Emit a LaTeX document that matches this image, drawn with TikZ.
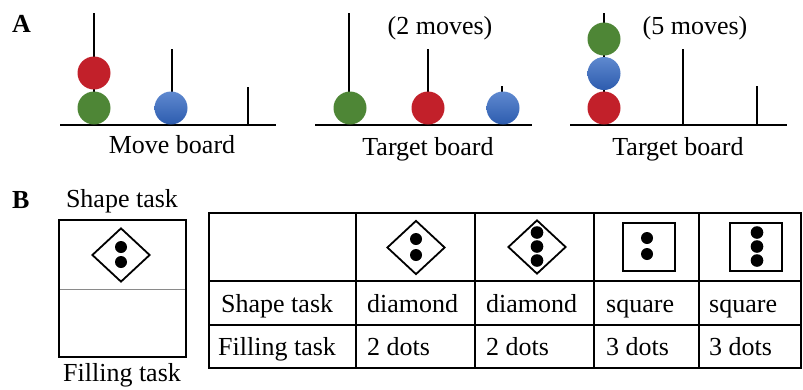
\documentclass[tikz,border=0pt]{standalone}
\usepackage{fontspec}
\setmainfont{Liberation Serif}
\usetikzlibrary{shapes.geometric}
\definecolor{ballred}{HTML}{C2202A}
\definecolor{ballgreen}{HTML}{4E8636}
\definecolor{balltop}{HTML}{5F89CF}
\definecolor{ballbot}{HTML}{2D5CAE}
\definecolor{divgray}{HTML}{8A8A8A}
\tikzset{
  peg/.style={line width=2pt},
  boardbase/.style={line width=2pt},
  redball/.style={fill=ballred},
  greenball/.style={fill=ballgreen},
  blueball/.style={top color=balltop, bottom color=ballbot, shading angle=0},
  lbl/.style={font=\fontsize{26}{30}\selectfont, anchor=base, inner sep=0pt},
  celltxt/.style={font=\fontsize{26}{30}\selectfont, anchor=base west, inner sep=0pt},
  panel/.style={font=\bfseries\fontsize{26}{30}\selectfont, anchor=base west, inner sep=0pt},
  dia/.style={draw, shape=diamond, line width=1.8pt, minimum width=58pt, minimum height=54pt, inner sep=0pt},
  sq/.style={draw, rectangle, line width=2.4pt, minimum width=52pt, minimum height=48pt, inner sep=0pt},
  grid/.style={line width=1.5pt},
}
\begin{document}
\begin{tikzpicture}[x=1pt,y=-1pt]
\useasboundingbox (0,0) rectangle (803,389);
% ---------- Panel A ----------
\node[panel] (A) at (12,32) {A};
% board 1
\draw[boardbase] (60,125) -- (276,125);
\draw[peg] (94,125) -- (94,13);
\draw[peg] (172,125) -- (172,49);
\draw[peg] (248,125) -- (248,87);
\path[greenball] (94,108) circle (16.5);
\path[redball] (94,73) circle (16.5);
\path[blueball] (171,108) circle (16.5);
\node[lbl] (mb) at (172,153) {Move board};
% board 2
\draw[boardbase] (315,125) -- (532,125);
\draw[peg] (349,125) -- (349,13);
\draw[peg] (428,125) -- (428,49);
\draw[peg] (502,125) -- (502,86);
\path[greenball] (350,108) circle (16.5);
\path[redball] (428,108) circle (16.5);
\path[blueball] (503,108) circle (16.5);
\node[lbl] (m2) at (440,34) {(2 moves)};
\node[lbl] (tb1) at (428,155) {Target board};
% board 3
\draw[boardbase] (570,125) -- (787,125);
\draw[peg] (604,125) -- (604,13);
\draw[peg] (683,125) -- (683,49);
\draw[peg] (757,125) -- (757,86);
\path[redball] (604,108) circle (16.5);
\path[blueball] (604,73.5) circle (16.5);
\path[greenball] (604,39) circle (16.5);
\node[lbl] (m5) at (695,34) {(5 moves)};
\node[lbl] (tb2) at (678,155) {Target board};
% ---------- Panel B ----------
\node[panel] (B) at (12,208) {B};
\node[lbl] (st) at (122,207) {Shape task};
\draw[line width=2pt] (59,220) rectangle (186,357);
\draw[divgray, line width=1pt] (60,289) -- (185,289);
\node[dia] (d0) at (121,255) {};
\fill (121,247) circle (6);
\fill (121,262) circle (6);
\node[lbl] (ft) at (122,381) {Filling task};
% table
\draw[grid] (209,213) rectangle (801,368);
\draw[grid] (209,281) -- (801,281);
\draw[grid] (209,325) -- (801,325);
\foreach \cx in {356,475,594,699} \draw[grid] (\cx,213) -- (\cx,368);
% icons
\node[dia] (d1) at (416,247.5) {};
\fill (416,239) circle (6);
\fill (416,255) circle (6);
\node[dia] (d2) at (537,247) {};
\fill (537,232.5) circle (6.3);
\fill (537,246.5) circle (6.3);
\fill (537,260.5) circle (6.3);
\node[sq] (s1) at (649,247) {};
\fill (647,238) circle (6);
\fill (647,254) circle (6);
\node[sq] (s2) at (756,247) {};
\fill (757,232.5) circle (6.3);
\fill (757,246.5) circle (6.3);
\fill (757,260.5) circle (6.3);
% texts
\node[celltxt] (r1) at (221,312) {Shape task};
\node[celltxt] (c11) at (367,312) {diamond};
\node[celltxt] (c12) at (486,312) {diamond};
\node[celltxt] (c13) at (606,312) {square};
\node[celltxt] (c14) at (709,312) {square};
\node[celltxt] (r2) at (218,355) {Filling task};
\node[celltxt] (c21) at (367,355) {2 dots};
\node[celltxt] (c22) at (486,355) {2 dots};
\node[celltxt] (c23) at (606,355) {3 dots};
\node[celltxt] (c24) at (709,355) {3 dots};
\end{tikzpicture}
\end{document}
